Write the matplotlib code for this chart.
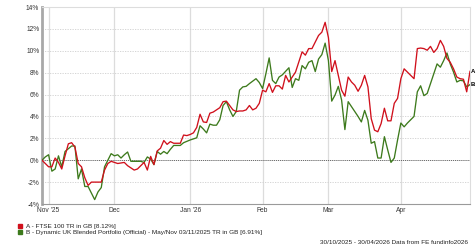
import numpy as np
import matplotlib
matplotlib.use("Agg")
import matplotlib.pyplot as plt

plt.rcParams['font.family'] = ['Liberation Sans', 'DejaVu Sans']

start = '2025-10-30'
month_starts = ['2025-11-01', '2025-12-01', '2026-01-01', '2026-02-01', '2026-03-01', '2026-04-01']
month_labels = ["Nov '25", 'Dec', "Jan '26", 'Feb', 'Mar', 'Apr']
n_days = 130

# trading day index (0 = 30/10/2025) and cumulative return in %
red_day = [0, 1, 2, 3, 4, 5, 6, 7, 8, 9, 10, 11, 12, 13, 14, 15, 16, 18, 19, 20,
           21, 22, 23, 25, 26, 27, 28, 29, 30, 31, 32, 33, 34, 35, 36, 37, 38, 39, 40, 42,
           43, 44, 45, 46, 47, 48, 49, 50, 51, 52, 53, 54, 55, 56, 57, 58, 59, 60, 61, 62,
           63, 64, 65, 66, 67, 68, 69, 70, 71, 72, 73, 74, 75, 76, 77, 79, 80, 81, 82, 84,
           85, 86, 87, 88, 89, 90, 91, 92, 93, 94, 95, 96, 97, 98, 99, 100, 101, 102, 103, 104,
           105, 106, 107, 108, 109, 110, 111, 112, 113, 114, 115, 116, 117, 118, 119, 120, 121, 122, 123, 124,
           125, 126, 127, 128, 129, 130]
red_pct = [0.0, -0.3, -0.6, -0.6, 0.2, -0.2, -0.8, 0.4, 1.5, 1.6, 1.2, -0.3, -0.6, -1.6, -2.3, -2.0, -2.0, -2.0, -0.9, -0.3,
           -0.1, -0.2, -0.3, -0.2, -0.5, -0.7, -0.9, -0.8, -0.5, -0.2, -0.9, 0.35, -0.4, 0.85, 1.1, 1.8, 1.45, 1.7, 1.55, 1.55,
           2.3, 2.25, 2.35, 2.5, 3.0, 4.2, 3.5, 3.45, 4.3, 4.4, 4.6, 4.8, 5.35, 5.4, 5.0, 4.6, 4.45, 4.5, 4.5, 4.6,
           5.0, 4.6, 4.75, 5.2, 6.4, 6.25, 7.0, 6.2, 6.8, 6.8, 6.5, 7.75, 7.15, 7.6, 8.05, 9.9, 9.6, 10.2, 10.2, 11.4,
           11.7, 12.6, 11.2, 8.1, 9.1, 7.75, 6.4, 5.85, 7.6, 7.15, 6.85, 6.3, 6.85, 7.75, 6.7, 3.8, 2.75, 2.6, 3.35, 4.75,
           3.6, 3.6, 5.2, 5.65, 7.45, 8.35, 8.05, 7.75, 7.45, 10.2, 10.25, 10.2, 10.05, 10.4, 9.85, 10.2, 10.95, 10.4, 9.3, 8.95,
           8.35, 7.6, 7.45, 7.4, 6.25, 8.12]

green_day = [0, 1, 2, 3, 4, 5, 6, 7, 9, 10, 11, 12, 13, 14, 16, 17, 18, 19, 20, 21,
             22, 23, 24, 25, 26, 27, 30, 31, 32, 33, 34, 35, 36, 37, 38, 39, 40, 42, 43, 45,
             47, 48, 49, 50, 51, 52, 53, 54, 55, 56, 57, 58, 59, 60, 61, 62, 63, 65, 66, 67,
             68, 69, 70, 71, 72, 73, 75, 76, 77, 78, 79, 80, 81, 82, 83, 84, 85, 86, 87, 88,
             89, 90, 91, 92, 93, 94, 95, 96, 97, 98, 99, 100, 101, 102, 103, 104, 105, 106, 107, 108,
             109, 110, 111, 113, 114, 115, 116, 117, 118, 119, 120, 121, 122, 123, 124, 125, 126, 127, 128, 129,
             130]
green_pct = [0.0, 0.3, 0.5, -1.0, -0.8, 0.4, -0.6, 0.8, 1.3, 1.3, -1.7, -0.8, -2.4, -2.4, -3.6, -2.9, -2.5, -0.6, 0.0, 0.6,
             0.4, 0.5, 0.2, 0.5, 0.75, -0.1, -0.1, -0.2, 0.3, 0.1, -0.4, 0.8, 0.55, 0.8, 0.6, 1.0, 1.35, 1.35, 1.6, 1.85,
             2.05, 3.15, 2.85, 2.5, 3.3, 3.2, 3.2, 3.7, 5.0, 5.35, 4.6, 4.0, 4.45, 6.4, 6.7, 6.75, 7.0, 7.45, 7.1, 6.55,
             7.9, 9.35, 7.3, 7.0, 7.6, 7.8, 8.45, 6.65, 7.45, 7.3, 8.65, 8.35, 8.95, 9.1, 8.1, 9.25, 9.65, 10.7, 9.1, 5.4,
             5.95, 6.75, 5.5, 2.8, 5.35, 4.9, 4.45, 4.0, 3.5, 4.55, 3.65, 1.55, 1.7, 0.2, 0.2, 2.15, 0.95, -0.2, 0.2, 1.85,
             3.4, 3.05, 3.4, 4.0, 6.25, 6.8, 5.9, 6.1, 7.0, 7.9, 8.8, 8.5, 9.1, 9.8, 8.8, 8.05, 7.15, 7.3, 7.25, 6.7,
             6.91]

red_name = 'A - FTSE 100 TR in GB [8.12%]'
green_name = 'B - Dynamic UK Blended Portfolio (Official) - May/Nov 03/11/2025 TR in GB [6.91%]'
footer = '30/10/2025 - 30/04/2026 Data from FE fundinfo2026'

red = '#d0101c'
green = '#3d7a1c'

tick_pos = [np.busday_count(start, m) for m in month_starts]

fig = plt.figure(figsize=(4.76, 2.47), dpi=100)
ax = fig.add_axes([42 / 476, 1 - 204 / 247, 428 / 476, 197 / 247])

ax.set_xlim(0, n_days)
ax.set_ylim(-4, 14)
ax.set_yticks(np.arange(-4, 15, 2))
ax.set_yticklabels([f'{v}%' for v in range(-4, 15, 2)])
ax.set_xticks(tick_pos)
ax.set_xticklabels(month_labels)
ax.tick_params(length=0, labelsize=4.8, labelcolor='#333333', pad=2)

for t in tick_pos:
    ax.axvline(t, color='#dcdcdc', lw=0.9, zorder=0)
for v in range(-2, 14, 2):
    if v != 0:
        ax.axhline(v, color='#cfcfcf', lw=0.6, ls=(0, (1.5, 1.5)), zorder=0)
ax.axhline(0, color='#555555', lw=0.6, ls=(0, (1.5, 1.0)), zorder=1)

for s in ['top', 'right']:
    ax.spines[s].set_color('#dddddd')
    ax.spines[s].set_linewidth(0.8)
ax.spines['bottom'].set_color('#9a9a9a')
ax.spines['bottom'].set_linewidth(0.8)
ax.spines['left'].set_color('#a8a8a8')
ax.spines['left'].set_linewidth(2.0)

ax.plot(green_day, green_pct, color=green, lw=0.95, zorder=3)
ax.plot(red_day, red_pct, color=red, lw=0.95, zorder=4)

ax.annotate('A', (red_day[-1], red_pct[-1]), xytext=(0.6, 0), textcoords='offset points',
            ha='left', va='center', fontsize=4.3, fontweight='bold', annotation_clip=False)
ax.annotate('B', (green_day[-1], green_pct[-1]), xytext=(0.6, 0), textcoords='offset points',
            ha='left', va='center', fontsize=4.3, fontweight='bold', annotation_clip=False)

# legend
fig.patches.append(plt.Rectangle((18 / 476, 1 - 228 / 247), 4 / 476, 4 / 247,
                                 transform=fig.transFigure, color=red, figure=fig))
fig.patches.append(plt.Rectangle((18 / 476, 1 - 234 / 247), 4 / 476, 4 / 247,
                                 transform=fig.transFigure, color=green, figure=fig))
fig.text(26 / 476, 1 - 226 / 247, red_name, fontsize=4.6, va='center', color='#222222')
fig.text(26 / 476, 1 - 232 / 247, green_name, fontsize=4.6, va='center', color='#222222')
fig.text(468 / 476, 1 - 242 / 247, footer, fontsize=4.6, va='center', ha='right', color='#222222')

fig.savefig('out.png', dpi=100)
